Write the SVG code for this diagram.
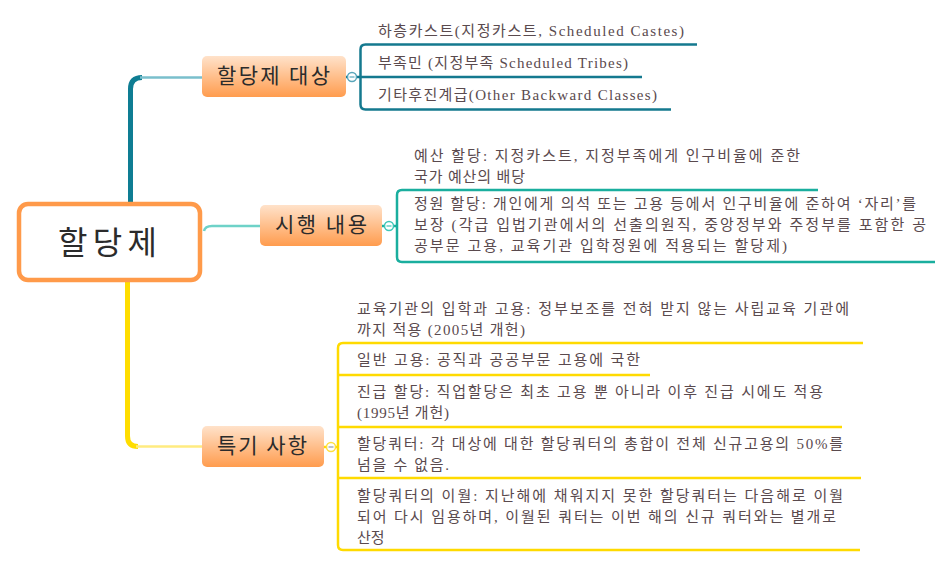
<svg xmlns="http://www.w3.org/2000/svg" width="952" height="567" viewBox="0 0 952 567">
<defs>
<linearGradient id="ng" x1="0" y1="0" x2="0" y2="1">
<stop offset="0" stop-color="#FFE2CA"/>
<stop offset="1" stop-color="#FF9C4E"/>
</linearGradient>
<style>
.node{fill:url(#ng);}
.nt{font-family:"Noto Sans CJK KR",sans-serif;font-size:21px;fill:#2b2b2b;}
.st{font-family:"Liberation Serif","Noto Sans CJK KR",serif;font-size:15px;fill:#5A4A4E;}
.ln{fill:none;stroke-width:2.5;stroke-linecap:butt;}
.tl{stroke:#14798F;}
.gr{stroke:#1AAE9E;}
.yl{stroke:#FFDA00;}
.cc{fill:#fff;stroke-width:1.5;}
</style>
</defs>
<rect width="952" height="567" fill="#fff"/>
<g id="connectors">
<path d="M130.5,204 V89 Q130.5,77.5 142,77.5" fill="none" stroke="#0E7D93" stroke-width="5"/>
<path d="M140,77.5 H202" fill="none" stroke="#7ABFCC" stroke-width="2.5"/>
<path d="M204,231 Q205,226 212,226 H260" fill="none" stroke="#6ED2C8" stroke-width="2.5"/>
<path d="M127.5,280 V436 Q127.5,446.5 138,446.5" fill="none" stroke="#FFDD00" stroke-width="5"/>
<path d="M136,446.5 H202" fill="none" stroke="#FFEB80" stroke-width="2.5"/>
<path class="ln tl" d="M346,77 H347.5 M356.5,77 H642"/>
<path class="ln tl" d="M697,44.5 H365.5 Q360.5,44.5 360.5,49.5 V104.5 Q360.5,109.5 365.5,109.5 H671"/>
<path class="ln gr" d="M382,226 H384.5 M393.5,226 H397"/>
<path class="ln gr" d="M818,190 H402 Q397,190 397,195 V257 Q397,262 402,262 H935"/>
<path class="ln yl" d="M324,447 H326.5 M335.5,447 H338"/>
<path class="ln yl" d="M863,343 H343 Q338,343 338,348 V545 Q338,550 343,550 H860"/>
<path class="ln yl" d="M338,375 H650 M338,427 H842 M338,478 H861"/>
<circle class="cc" cx="352" cy="77" r="4.5" stroke="#5AA6BA"/>
<path d="M349.5,77 H354.5" stroke="#5AA6BA" stroke-width="1.2"/>
<circle class="cc" cx="389" cy="226" r="4.5" stroke="#3FC7B8"/>
<path d="M386.5,226 H391.5" stroke="#3FC7B8" stroke-width="1.2"/>
<circle class="cc" cx="331" cy="447" r="4.5" stroke="#FFE040"/>
<path d="M328.5,447 H333.5" stroke="#8A9AB0" stroke-width="1.2"/>
</g>
<g id="center">
<rect x="19" y="204" width="181" height="76" rx="9" fill="#fff" stroke="#FF9A4A" stroke-width="4.5"/>
<text x="58" y="254" font-family="'Noto Sans CJK KR',sans-serif" font-size="32" fill="#2b2b2b" textLength="99" lengthAdjust="spacing">할당제</text>
</g>
<g id="b1">
<rect class="node" x="202" y="56" width="144" height="41" rx="5"/>
<text class="nt" x="217" y="83" textLength="113" lengthAdjust="spacing">할당제 대상</text>
</g>
<g id="b1-items">
<text class="st" x="378" y="36" textLength="306" lengthAdjust="spacing">하층카스트(지정카스트, Scheduled Castes)</text>
<text class="st" x="378" y="68" textLength="250" lengthAdjust="spacing">부족민 (지정부족 Scheduled Tribes)</text>
<text class="st" x="378" y="100" textLength="279" lengthAdjust="spacing">기타후진계급(Other Backward Classes)</text>
</g>
<g id="b2">
<rect class="node" x="260" y="205" width="122" height="41" rx="5"/>
<text class="nt" x="275" y="232" textLength="92" lengthAdjust="spacing">시행 내용</text>
</g>
<g id="b2-items">
<text class="st" x="414" y="161" textLength="386" lengthAdjust="spacing">예산 할당: 지정카스트, 지정부족에게 인구비율에 준한</text>
<text class="st" x="414" y="182" textLength="111" lengthAdjust="spacing">국가 예산의 배당</text>
<text class="st" x="414" y="209" textLength="502" lengthAdjust="spacing">정원 할당: 개인에게 의석 또는 고용 등에서 인구비율에 준하여 ‘자리’를</text>
<text class="st" x="414" y="230" textLength="512" lengthAdjust="spacing">보장 (각급 입법기관에서의 선출의원직, 중앙정부와 주정부를 포함한 공</text>
<text class="st" x="414" y="251" textLength="373" lengthAdjust="spacing">공부문 고용, 교육기관 입학정원에 적용되는 할당제)</text>
</g>
<g id="b3">
<rect class="node" x="202" y="426" width="122" height="41" rx="5"/>
<text class="nt" x="217" y="453" textLength="90" lengthAdjust="spacing">특기 사항</text>
</g>
<g id="b3-items">
<text class="st" x="357" y="314" textLength="492" lengthAdjust="spacing">교육기관의 입학과 고용: 정부보조를 전혀 받지 않는 사립교육 기관에</text>
<text class="st" x="357" y="335" textLength="168" lengthAdjust="spacing">까지 적용 (2005년 개헌)</text>
<text class="st" x="357" y="365" textLength="283" lengthAdjust="spacing">일반 고용: 공직과 공공부문 고용에 국한</text>
<text class="st" x="357" y="397" textLength="466" lengthAdjust="spacing">진급 할당: 직업할당은 최초 고용 뿐 아니라 이후 진급 시에도 적용</text>
<text class="st" x="357" y="418" textLength="92" lengthAdjust="spacing">(1995년 개헌)</text>
<text class="st" x="357" y="449" textLength="486" lengthAdjust="spacing">할당쿼터: 각 대상에 대한 할당쿼터의 총합이 전체 신규고용의 50%를</text>
<text class="st" x="357" y="470" textLength="92" lengthAdjust="spacing">넘을 수 없음.</text>
<text class="st" x="357" y="501" textLength="486" lengthAdjust="spacing">할당쿼터의 이월: 지난해에 채워지지 못한 할당쿼터는 다음해로 이월</text>
<text class="st" x="357" y="522" textLength="479" lengthAdjust="spacing">되어 다시 임용하며, 이월된 쿼터는 이번 해의 신규 쿼터와는 별개로</text>
<text class="st" x="357" y="543">산정</text>
</g>
</svg>
